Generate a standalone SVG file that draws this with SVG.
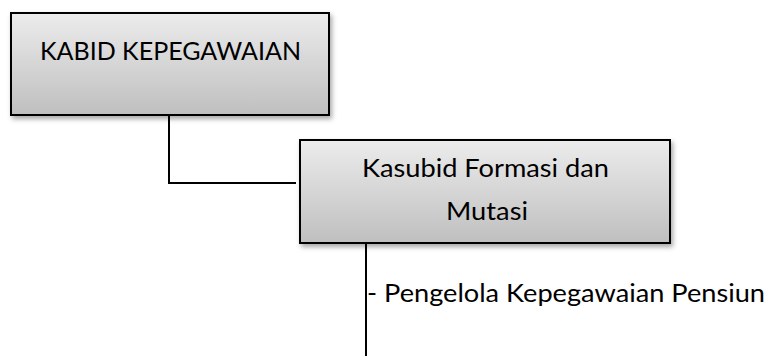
<svg xmlns="http://www.w3.org/2000/svg" width="770" height="356" viewBox="0 0 770 356">
<defs>
<linearGradient id="g" x1="0" y1="0" x2="0" y2="1">
<stop offset="0" stop-color="#ececec"/>
<stop offset="1" stop-color="#bfbfbf"/>
</linearGradient>
<filter id="sh" x="-10%" y="-10%" width="125%" height="130%">
<feDropShadow dx="2" dy="3" stdDeviation="2.5" flood-color="#000" flood-opacity="0.35"/>
</filter>
</defs>
<style>
.box{fill:url(#g);stroke:#000;stroke-width:2;filter:url(#sh)}
.t{font-family:Lato,"Open Sans","Liberation Sans",sans-serif;font-size:25px;fill:#000}
.c{fill:none;stroke:#000;stroke-width:2}
</style>
<rect width="770" height="356" fill="#fff"/>
<g id="connectors">
<path class="c" d="M169,115 V183 H296"/>
<path class="c" d="M366,243 V356"/>
</g>
<g id="kabid">
<rect class="box" x="11" y="13" width="318" height="102"/>
<text class="t" x="40" y="60" textLength="261" lengthAdjust="spacingAndGlyphs">KABID KEPEGAWAIAN</text>
</g>
<g id="kasubid">
<rect class="box" x="300" y="140" width="370" height="103"/>
<text class="t" x="362" y="177" textLength="247" lengthAdjust="spacingAndGlyphs">Kasubid Formasi dan</text>
<text class="t" x="446" y="220" textLength="82" lengthAdjust="spacingAndGlyphs">Mutasi</text>
</g>
<g id="pengelola">
<text class="t" x="367" y="302" textLength="398" lengthAdjust="spacingAndGlyphs">- Pengelola Kepegawaian Pensiun</text>
</g>
</svg>
